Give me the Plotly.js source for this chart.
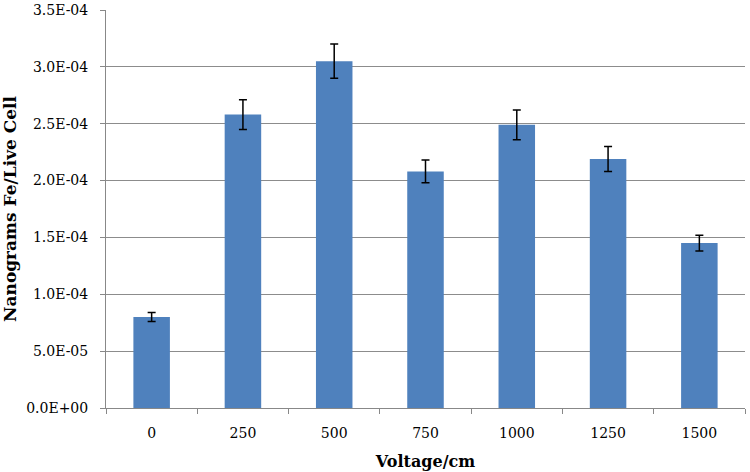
<!DOCTYPE html>
<html><head><meta charset="utf-8">
<script src="https://cdn.plot.ly/plotly-3.0.1.min.js"></script>
<style>body{margin:0;padding:0;background:#fff}#chart{width:750px;height:472px}</style>
</head><body><div id="chart"></div>
<script>
var categories = ["0","250","500","750","1000","1250","1500"];
var values = [8.0e-5, 2.58e-4, 3.05e-4, 2.08e-4, 2.49e-4, 2.19e-4, 1.45e-4];
var errors = [4e-6, 1.3e-5, 1.5e-5, 1.0e-5, 1.3e-5, 1.1e-5, 7e-6];
var yTickVals = [0, 5e-5, 1e-4, 1.5e-4, 2e-4, 2.5e-4, 3e-4, 3.5e-4];
var yTickText = ["0.0E+00","5.0E-05","1.0E-04","1.5E-04","2.0E-04","2.5E-04","3.0E-04","3.5E-04"];
var font = "DejaVu Serif, Liberation Serif, serif";
Plotly.newPlot("chart", [{
  type: "bar", x: categories, y: values,
  marker: {color: "#4F81BD"},
  width: 0.4,
  error_y: {type: "data", array: errors, visible: true, color: "#000", thickness: 1.5, width: 4}
}, {
  type: "scatter", x: categories, y: values, yaxis: "y2",
  mode: "markers", marker: {opacity: 0}, hoverinfo: "skip", showlegend: false
}], {
  width: 750, height: 472,
  margin: {l: 106, r: 5, t: 10, b: 64},
  paper_bgcolor: "#fff", plot_bgcolor: "#fff",
  showlegend: false,
  font: {family: font, size: 14, color: "#000"},
  xaxis: {
    type: "category", showline: true, linecolor: "#888", linewidth: 1,
    ticks: "outside", tickson: "boundaries", ticklen: 5, tickcolor: "#888",
    showgrid: false, tickfont: {family: font, size: 14},
    ticklabelstandoff: 12,
    title: {text: "<b>Voltage/cm</b>", font: {family: font, size: 16}, standoff: 16}
  },
  yaxis: {
    range: [0, 3.5e-4], tickvals: yTickVals, ticktext: yTickText,
    showline: true, linecolor: "#888", linewidth: 1,
    ticks: "outside", ticklen: 14, tickcolor: "rgba(0,0,0,0)",
    showgrid: true, gridcolor: "#8c8c8c", gridwidth: 1, zeroline: false,
    tickfont: {family: font, size: 14},
    title: {text: "<b>Nanograms Fe/Live Cell</b>", font: {family: font, size: 17}, standoff: 8}
  },
  yaxis2: {
    overlaying: "y", side: "left", range: [0, 3.5e-4], tickvals: yTickVals,
    showticklabels: false, ticks: "outside", ticklen: 5, tickcolor: "#888",
    showgrid: false, zeroline: false, showline: false
  }
}, {displayModeBar: false, staticPlot: true});
</script></body></html>
